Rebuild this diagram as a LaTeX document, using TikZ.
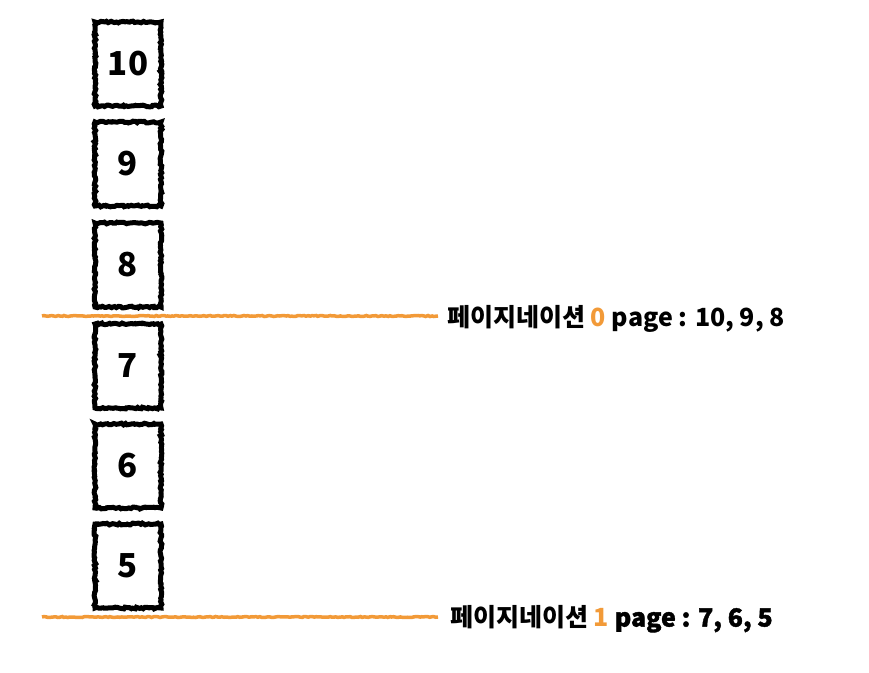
\documentclass[tikz,border=0pt]{standalone}
\usepackage{fontspec}
\newfontfamily\kr{Noto Sans CJK KR}
\newfontfamily\krsemi[FakeBold=1.5]{Noto Sans CJK KR}
\usetikzlibrary{decorations.pathmorphing}
\definecolor{pageorange}{HTML}{F29A38}
\tikzset{
  x=1pt,y=-1pt,
  numbox/.style={draw=black, line width=5pt, minimum width=66pt, minimum height=84pt,
    inner sep=0pt, font=\kr\bfseries\fontsize{33}{33}\selectfont,
    decorate, decoration={random steps, segment length=2pt, amplitude=0.9pt}},
  divider/.style={draw=pageorange, line width=3.5pt,
    decorate, decoration={random steps, segment length=2pt, amplitude=0.5pt}},
  pagelabel/.style={anchor=west, inner sep=0pt, font=\kr\bfseries\fontsize{25}{25}\selectfont}
}
\begin{document}
\begin{tikzpicture}
\useasboundingbox (0,0) rectangle (869,672);
\node[numbox] (b10) at (128,64) {10};
\node[numbox] (b9) at (128,164) {9};
\node[numbox] (b8) at (128,265) {8};
\node[numbox] (b7) at (128,366) {7};
\node[numbox] (b6) at (128,466) {6};
\node[numbox] (b5) at (128,566) {5};
\coordinate (l1a) at (42,316);
\coordinate (l1b) at (438,316);
\coordinate (l2a) at (42,617);
\coordinate (l2b) at (438,617);
\draw[divider] (l1a) -- (l1b);
\draw[divider] (l2a) -- (l2b);
\node[pagelabel] (t1) at (447,319) {페이지네이션 {\color{pageorange}0} page : 10, 9, 8};
\node[pagelabel] (t2) at (450,619) {페이지네이션 {\color{pageorange}1} {\krsemi page : 7, 6, 5}};
\end{tikzpicture}
\end{document}
